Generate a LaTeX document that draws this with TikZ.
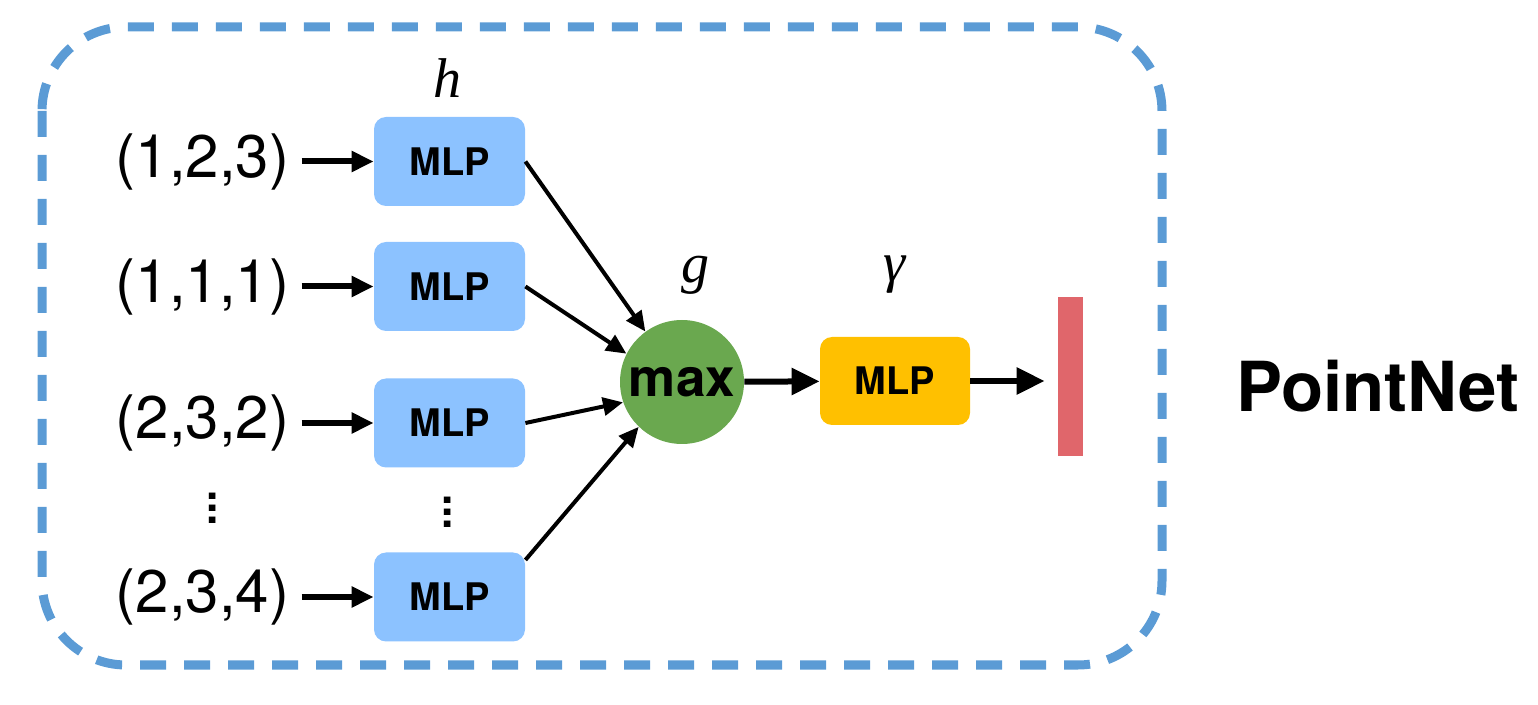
\documentclass[tikz,border=0pt]{standalone}
\usepackage{fontspec}
\setsansfont{TeX Gyre Heros}
\newfontfamily\fnamefont{Liberation Serif}
\usepackage{tikz}
\usetikzlibrary{arrows.meta}
\usetikzlibrary{shapes}
\usetikzlibrary{positioning}
\definecolor{frameblue}{RGB}{91,155,213}
\definecolor{mlpblue}{RGB}{140,194,255}
\definecolor{maxgreen}{RGB}{106,168,79}
\definecolor{mlpyellow}{RGB}{255,192,0}
\definecolor{featred}{RGB}{224,102,107}
\newcommand{\colvdots}{\vbox{\baselineskip6pt\lineskiplimit0pt\hbox{.}\hbox{.}\hbox{.}}}
\tikzset{
	frame/.style={draw=frameblue, line width=4.5pt, dash pattern=on 13pt off 9pt, rounded corners=42pt},
    mlp/.style={rectangle, rounded corners=6pt, fill=mlpblue, minimum width=75.5pt, minimum height=44.5pt,
        inner sep=0pt, font=\sffamily\bfseries\fontsize{19}{19}\selectfont},
    gammamlp/.style={mlp, fill=mlpyellow, minimum width=75pt, minimum height=44pt},
    maxnode/.style={circle, fill=maxgreen, minimum size=62pt, inner sep=0pt,
        font=\sffamily\bfseries\fontsize{26.5}{26.5}\selectfont},
    point/.style={inner sep=0pt, font=\sffamily\fontsize{30}{30}\selectfont},
    fname/.style={inner sep=0pt, font=\fnamefont\itshape\fontsize{28}{28}\selectfont},
    moredots/.style={inner sep=0pt, font=\sffamily\bfseries\fontsize{22}{22}\selectfont},
    feature/.style={rectangle, fill=featred, minimum width=12.5pt, minimum height=79.5pt, inner sep=0pt},
    inline/.style={draw, line width=3pt, -{Triangle[length=11pt,width=10pt]}, shorten <=6pt},
    mainline/.style={draw, line width=3pt, -{Triangle[length=14pt,width=13pt]}},
}
\tikzstyle{line} = [draw, line width=2pt, -{Triangle[length=10pt,width=9pt]}]

\begin{document}
\begin{tikzpicture}[x=0.5pt, y=-0.5pt]
	\useasboundingbox (0,0) rectangle (1538,705);
	\draw[frame] (42,27) rectangle (1162,665);
	\node[mlp] (m1) at (449.5,161.5) {MLP};
	\node[mlp] (m2) at (449.5,286.5) {MLP};
	\node[mlp] (m3) at (449.5,423) {MLP};
	\node[mlp] (m5) at (449.5,597) {MLP};
	\node[point, left=42pt of m1] (p1) {(1,2,3)};
	\node[point, left=42pt of m2] (p2) {(1,1,1)};
	\node[point, left=42pt of m3] (p3) {(2,3,2)};
	\node[point, left=42pt of m5] (p5) {(2,3,4)};
	\node[moredots] (d1) at (213,508) {\colvdots};
	\node[moredots] (d2) at (448,512) {\colvdots};
	\node[fname] (h) at (447,78) {h};
	\node[maxnode] (mx) at (682,382) {max};
	\node[fname] (g) at (695,275) {g};
	\node[fname] (gam) at (895,275) {γ};
	\node[gammamlp] (ym) at (895,381) {MLP};
	\node[feature] (bar) at (1070.5,376.5) {};
	\node[inner sep=0pt, font=\sffamily\bfseries\fontsize{34.5}{34.5}\selectfont] (pn) at (1378,386) {PointNet};
	\path[inline] (p1) -- (m1);
	\path[inline] (p2) -- (m2);
	\path[inline] (p3) -- (m3);
	\path[inline] (p5) -- (m5);
	\path[line] (m1.east) -- (mx.126);
	\path[line] (m2.east) -- (mx.153);
	\path[line] (m3.east) -- (mx.199);
	\path[line] (m5.26) -- (mx.226);
	\path[mainline] (mx) -- (ym);
	\path[mainline, shorten >=6.5pt] (ym.east) -- (ym.east -| bar.west);
\end{tikzpicture}
\end{document}
